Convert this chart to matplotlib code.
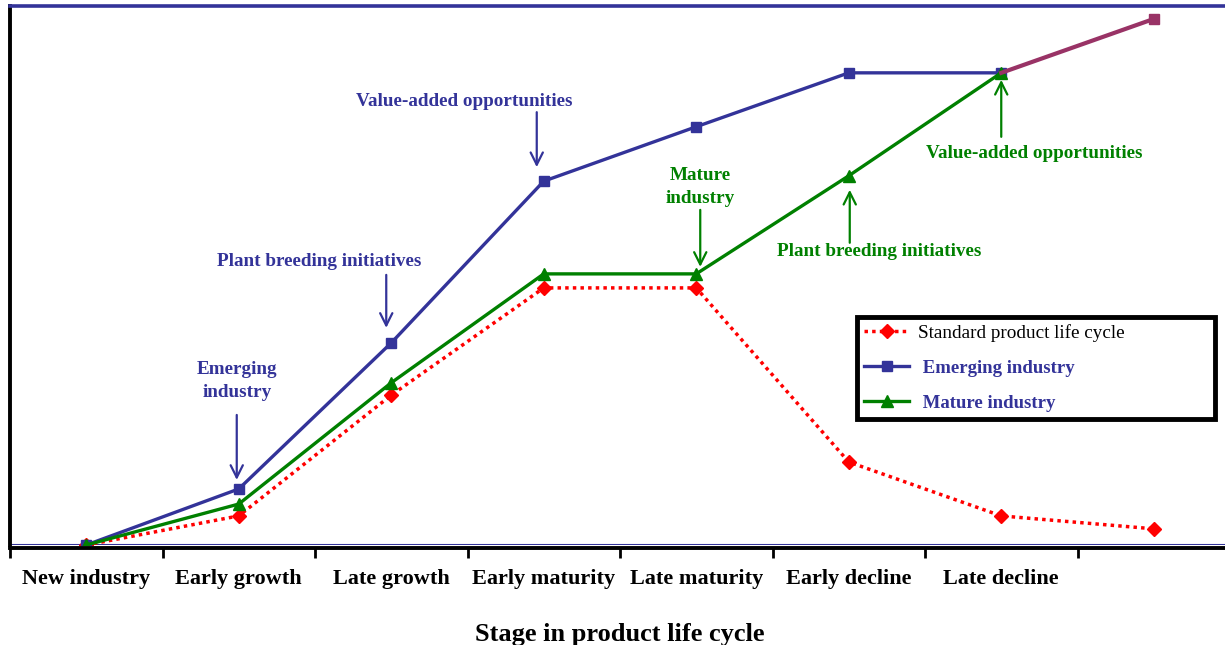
import matplotlib
matplotlib.use("Agg")
import matplotlib.pyplot as plt
from matplotlib.transforms import offset_copy

stages = ["New industry", "Early growth", "Late growth", "Early maturity",
          "Late maturity", "Early decline", "Late decline", ""]
standard = [0, 5.4, 27.8, 47.7, 47.7, 15.4, 5.4, 3.0]
emerging = [0, 10.4, 37.5, 67.5, 77.6, 87.6, 87.6]
emerging_extra = [87.6, 97.6]  # last segment (drawn in a different colour)
mature = [0, 7.6, 30.1, 50.3, 50.3, 68.5, 87.6]

BLUE = "#333399"
GREEN = "#008000"
RED = "#FF0000"
MAGENTA = "#993366"

plt.rcParams['font.family'] = ['Liberation Serif', 'DejaVu Serif']
plt.rcParams['font.weight'] = 'bold'

fig = plt.figure(figsize=(12.25, 6.45), dpi=100)
ax = fig.add_axes([10/1225, 100/645, 1220/1225, (639-100)/645])

x = list(range(len(stages)))
ax.plot(x, standard, color=RED, lw=2.5, ls=(0, (1, 1.2)), marker='D',
        ms=7, zorder=3, label="Standard product life cycle")
ax.plot(x[:len(emerging)], emerging, color=BLUE, lw=2.4, marker='s', ms=7.5,
        zorder=4, label=" Emerging industry")
ax.plot(x[len(emerging)-1:], emerging_extra, color=MAGENTA, lw=3, marker='s',
        ms=7.5, zorder=6, markevery=[1])
ax.plot(x[:len(mature)], mature, color=GREEN, lw=2.4, marker='^', ms=8,
        zorder=5, label=" Mature industry")

ax.set_xlim(-0.5, 7.5)
ax.set_ylim(0, 100)
# major ticks carry the category labels, minor ticks mark the boundaries
ax.set_xticks([i + 0.5 for i in range(-1, 8)], minor=True)
ax.tick_params(axis='x', which='minor', direction='out', length=7, width=2,
               color='black')
ax.tick_params(axis='x', which='major', length=0, pad=15.5, labelsize=16)
ax.set_xticks(x)
ax.set_xticklabels(stages, fontsize=16, fontweight='bold')
ax.set_yticks([])

for s in ['left', 'bottom']:
    ax.spines[s].set_color('black')
    ax.spines[s].set_linewidth(2.8)
ax.spines['bottom'].set_position(('outward', 2))
ax.spines['top'].set_color(BLUE)
ax.spines['top'].set_linewidth(2.6)
ax.spines['right'].set_visible(False)
ax.axhline(0, color=BLUE, lw=1.5, zorder=2)

ax.set_xlabel("Stage in product life cycle", fontsize=19, fontweight='bold',
              labelpad=24)

# annotations: (series, index, color, text, dx_arrow, tip_dy, tail_dy, dx_text, dy_text)
notes = [
    (emerging, 1, BLUE, "Emerging\nindustry", -2, 9, 74, -2, 108),
    (emerging, 2, BLUE, "Plant breeding initiatives", -5, 15, 68, -72, 81),
    (emerging, 3, BLUE, "Value-added opportunities", -7, 14, 69, -79, 80),
    (mature, 4, GREEN, "Mature\nindustry", 4, 7, 64, 4, 87),
    (mature, 5, GREEN, "Plant breeding initiatives", 1, -14, -67, 30, -76),
    (mature, 6, GREEN, "Value-added opportunities", 0, -7, -64, 33, -81),
]
for series, i, col, txt, dxa, tip, tail, dxt, dyt in notes:
    tip_tr = offset_copy(ax.transData, fig=fig, x=dxa, y=tip, units='dots')
    tail_tr = offset_copy(ax.transData, fig=fig, x=dxa, y=tail, units='dots')
    ax.annotate('', xy=(i, series[i]), xycoords=tip_tr,
                xytext=(i, series[i]), textcoords=tail_tr,
                arrowprops=dict(arrowstyle='->', color=col, lw=1.6,
                                shrinkA=0, shrinkB=0, mutation_scale=22))
    txt_tr = offset_copy(ax.transData, fig=fig, x=dxt, y=dyt, units='dots')
    ax.text(i, series[i], txt, transform=txt_tr, color=col, fontsize=13.8,
            fontweight='bold', ha='center', va='center', linespacing=1.45)

leg = ax.legend(loc='upper left',
                bbox_to_anchor=(857/1225, 1 - 418/645, 358/1225, 101/645),
                bbox_transform=fig.transFigure, mode='expand', frameon=True,
                fancybox=False, framealpha=1, fontsize=13.5, handlelength=2.4,
                borderpad=0.38, labelspacing=0.95, handletextpad=0.45,
                borderaxespad=0)
leg.get_frame().set_edgecolor('black')
leg.get_frame().set_linewidth(3.5)
texts = leg.get_texts()
texts[0].set_color('black')
texts[0].set_fontsize(13.8)
texts[0].set_fontweight('normal')
for t in texts[1:]:
    t.set_color(BLUE)
    t.set_fontweight('bold')

fig.savefig("out.png", dpi=100)
